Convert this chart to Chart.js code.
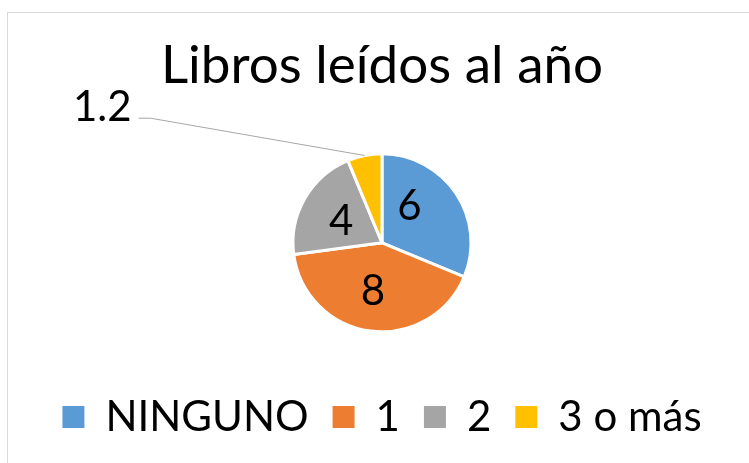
<!DOCTYPE html>
<html>
<head>
<meta charset="utf-8">
<script src="https://cdn.jsdelivr.net/npm/chart.js@4"></script>
<style>
    html, body { margin: 0; padding: 0; background: #fff; }
    #wrap { width: 749px; height: 463px; }
</style>
</head>
<body>
<div id="wrap"><canvas id="libros-chart" width="749" height="463"></canvas></div>
<script>
var labels = ['NINGUNO', '1', '2', '3 o más']
var values = [6, 8, 4, 1.2]
var colors = ['#5B9BD5', '#ED7D31', '#A5A5A5', '#FFC000']
var title = 'Libros leídos al año'

var FONT = 'Lato'

// light grey frame of the chart area, runs past the right/bottom edge
const framePlugin = {
    id: 'frame',
    beforeDraw(chart) {
        const ctx = chart.ctx
        ctx.save()
        ctx.strokeStyle = '#d9d9d9'
        ctx.lineWidth = 1
        ctx.strokeRect(7.5, 12.5, 800, 500)
        ctx.restore()
    }
}

// value labels: inside slices, last one outside with a leader line
const valueLabels = {
    id: 'valueLabels',
    afterDatasetsDraw(chart) {
        const ctx = chart.ctx
        const arcs = chart.getDatasetMeta(0).data
        // excel moved the first label a bit toward the top
        const angleNudge = [-0.36, 0.06, 0, 0]
        ctx.save()
        ctx.fillStyle = '#000'
        ctx.font = '42px ' + FONT
        ctx.textBaseline = 'middle'
        arcs.forEach(function(arc, i) {
            const p = arc.getProps(['x', 'y', 'startAngle', 'endAngle', 'outerRadius'], true)
            const mid = (p.startAngle + p.endAngle) / 2
            const r = p.outerRadius
            const text = String(values[i])
            if (i < arcs.length - 1) {
                const a = mid + angleNudge[i]
                ctx.textAlign = 'center'
                ctx.fillText(text, p.x + Math.cos(a) * r * 0.53, p.y + Math.sin(a) * r * 0.53 + 2)
            } else {
                const sx = p.x + Math.cos(mid) * r
                const sy = p.y + Math.sin(mid) * r
                const ex = p.x - 2.6 * r
                const ey = p.y - 1.4 * r
                ctx.strokeStyle = '#a6a6a6'
                ctx.lineWidth = 1
                ctx.beginPath()
                ctx.moveTo(sx, sy)
                ctx.lineTo(ex, ey)
                ctx.lineTo(ex - 12, ey)
                ctx.stroke()
                ctx.textAlign = 'right'
                ctx.fillText(text, ex - 19, ey - 11)
            }
        })
        ctx.restore()
    }
}

function drawChart() {
    const ctx = document.getElementById('libros-chart')
    const baseLabels = Chart.overrides.pie.plugins.legend.labels.generateLabels
    new Chart(ctx, {
        type: 'pie',
        data: {
            labels: labels,
            datasets: [{
                data: values,
                backgroundColor: colors,
                borderColor: '#fff',
                borderWidth: 3,
                radius: 89
            }]
        },
        options: {
            responsive: false,
            animation: false,
            layout: {
                padding: { left: 15, bottom: 15 }
            },
            plugins: {
                tooltip: { enabled: false },
                title: {
                    display: true,
                    text: title,
                    color: '#000',
                    font: { family: FONT, size: 53, weight: 'normal', lineHeight: 1.2 },
                    padding: { top: 34, bottom: 16 }
                },
                legend: {
                    position: 'bottom',
                    labels: {
                        color: '#000',
                        font: { family: FONT, size: 42 },
                        boxWidth: 22,
                        boxHeight: 22,
                        padding: 24,
                        generateLabels: function(chart) {
                            return baseLabels(chart).map(function(item) {
                                item.lineWidth = 0
                                return item
                            })
                        }
                    }
                }
            }
        },
        plugins: [framePlugin, valueLabels]
    })
}

drawChart()
</script>
</body>
</html>
